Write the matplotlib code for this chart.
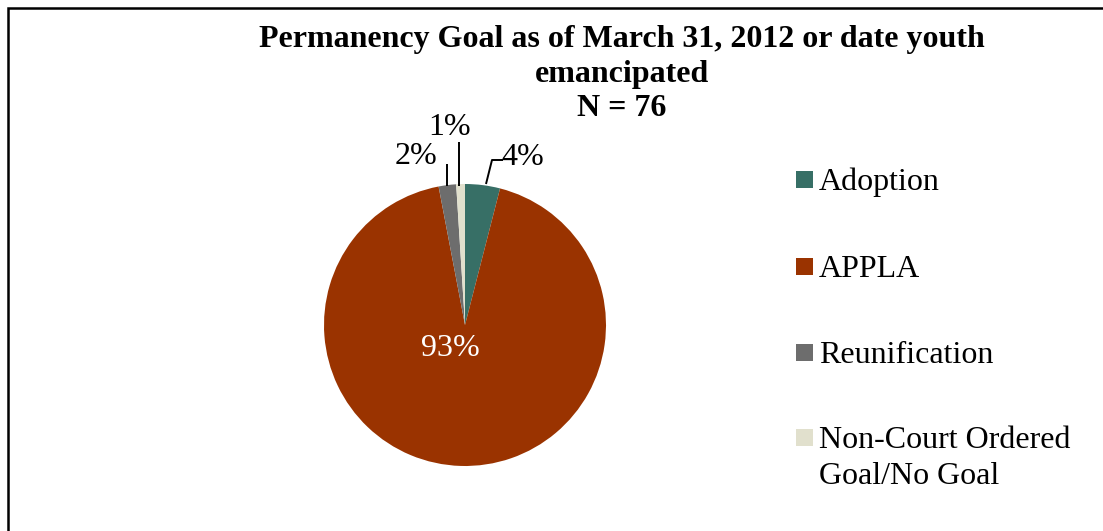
import matplotlib.pyplot as plt
from matplotlib.patches import Rectangle

plt.rcParams['font.family'] = ['Liberation Serif', 'DejaVu Serif']

# Permanency goal shares (percent)
goals = ["Adoption", "APPLA", "Reunification", "Non-Court Ordered\nGoal/No Goal"]
shares = [4, 93, 2, 1]
colores = ["#376F66", "#9A3300", "#6D6D6D", "#E1E0CD"]

W, H = 1103, 531
fig = plt.figure(figsize=(W / 100, H / 100), dpi=100)

# chart frame (runs off the right and bottom edges)
fig.patches.append(Rectangle((8 / W, -0.2), 2, 1.2 - 8 / H, transform=fig.transFigure,
                             fill=False, edgecolor="black", linewidth=1.8, zorder=10))

# pie placed by pixel centre and radius
cx, cy, r = 465, 325, 141
ax = fig.add_axes([(cx - r) / W, (H - cy - r) / H, 2 * r / W, 2 * r / H])
wedges, _ = ax.pie(shares, colors=colores, startangle=90, counterclock=False,
                   radius=1, wedgeprops=dict(linewidth=0))
ax.set_xlim(-1, 1)
ax.set_ylim(-1, 1)
ax.set_aspect("equal")
ax.axis("off")

def px(x, y):
    return ((x - cx) / r, (cy - y) / r)

def leader(points):
    xs, ys = zip(*[px(*p) for p in points])
    ax.plot(xs, ys, color="black", lw=1.4, clip_on=False, solid_capstyle="butt")

# data labels
fs = 23
lab_kw = dict(fontsize=fs, ha="center", va="center")
ax.text(*px(450, 349), "%d%%" % shares[1], color="white", **lab_kw)

ax.text(*px(523, 157), "%d%%" % shares[0], color="black", **lab_kw)
leader([(486, 184), (492, 160), (503, 160)])

ax.text(*px(416, 156), "%d%%" % shares[2], color="black", **lab_kw)
leader([(447, 186), (447, 164)])

ax.text(*px(450, 127), "%d%%" % shares[3], color="black", **lab_kw)
leader([(459, 186), (459, 142)])

# title
title_lines = ["Permanency Goal as of March 31, 2012 or date youth", "emancipated", "N = 76"]
for i, line in enumerate(title_lines):
    fig.text(622 / W, 1 - (40 + 34.5 * i) / H, line, ha="center", va="center",
             fontsize=fs, fontweight="bold")

# legend
leg_base = [190, 277, 363, 448]
for g, c, yb in zip(goals, colores, leg_base):
    fig.patches.append(Rectangle((796 / W, 1 - (yb - 2) / H), 17 / W, 17 / H,
                                 transform=fig.transFigure, facecolor=c,
                                 edgecolor="none"))
    for k, part in enumerate(g.split("\n")):
        fig.text(819 / W, 1 - (yb + 36 * k) / H, part, ha="left", va="baseline",
                 fontsize=fs)

fig.savefig("out.png", dpi=100)
